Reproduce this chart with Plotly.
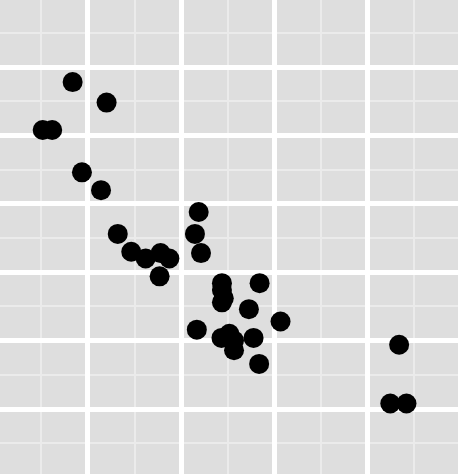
import plotly.graph_objects as go

wt = [2.620, 2.875, 2.320, 3.215, 3.440, 3.460, 3.570, 3.190, 3.150, 3.440, 3.440,
      4.070, 3.730, 3.780, 5.250, 5.424, 5.345, 2.200, 1.615, 1.835, 2.465, 3.520,
      3.435, 3.840, 3.845, 1.935, 2.140, 1.513, 3.170, 2.770, 3.570, 2.780]
mpg = [21.0, 21.0, 22.8, 21.4, 18.7, 18.1, 14.3, 24.4, 22.8, 19.2, 17.8,
       16.4, 17.3, 15.2, 10.4, 10.4, 14.7, 32.4, 30.4, 33.9, 21.5, 15.5,
       15.2, 13.3, 19.2, 27.3, 26.0, 30.4, 15.8, 19.7, 15.0, 21.4]

fig = go.Figure(go.Scatter(x=wt, y=mpg, mode="markers",
                           marker=dict(color="black", size=20, line=dict(width=0))))

axis_common = dict(showticklabels=False, ticks="", zeroline=False, showline=False,
                   showgrid=True, gridcolor="white", gridwidth=4.5)
fig.update_xaxes(range=[1.054, 5.978], tick0=0, dtick=1,
                 minor=dict(tick0=0.5, dtick=1, showgrid=True, gridcolor="#EBEBEB", gridwidth=2.2),
                 **axis_common)
fig.update_yaxes(range=[5.25, 39.9], tick0=0, dtick=5,
                 minor=dict(tick0=2.5, dtick=5, showgrid=True, gridcolor="#EBEBEB", gridwidth=2.2),
                 **axis_common)
fig.update_layout(width=458, height=474, margin=dict(l=0, r=0, t=0, b=0),
                  plot_bgcolor="#DEDEDE", paper_bgcolor="white", showlegend=False)
fig.write_html("out.html")
